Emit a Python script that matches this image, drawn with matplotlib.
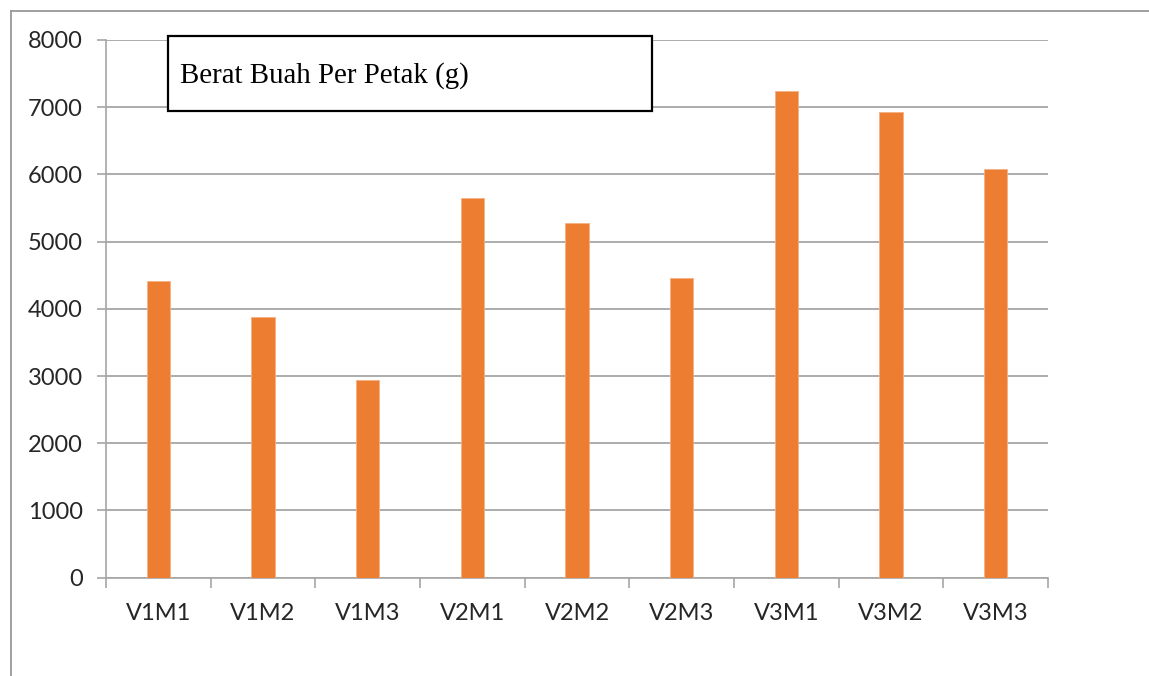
import matplotlib
matplotlib.use("Agg")
import matplotlib.pyplot as plt
import numpy as np
from matplotlib.patches import Rectangle
from matplotlib.lines import Line2D

# data
categories = ["V1M1", "V1M2", "V1M3", "V2M1", "V2M2", "V2M3", "V3M1", "V3M2", "V3M3"]
berat = [4410, 3875, 2940, 5645, 5280, 4465, 7245, 6925, 6085]
y_ticks = [0, 1000, 2000, 3000, 4000, 5000, 6000, 7000, 8000]
title = "Berat Buah Per Petak (g)"

W, H = 1149, 676
fig = plt.figure(figsize=(W / 100, H / 100), dpi=100)
ax = fig.add_axes([106 / W, 1 - 577.7 / H, (1048 - 106) / W, (577.7 - 40) / H])

grey = "#a6a6a6"
x = np.arange(len(categories))
ax.bar(x, berat, width=0.22, color="#ED7D31", edgecolor="#f4b183", linewidth=0.6, zorder=3)

ax.set_xlim(-0.5, len(categories) - 0.5)
ax.set_ylim(0, 8000)
ax.set_yticks(y_ticks)
ax.set_yticklabels([str(v) for v in y_ticks])
ax.yaxis.grid(True, color=grey, linewidth=1.3, zorder=0)
ax.set_axisbelow(True)

# category labels at centres, tick marks at boundaries
ax.set_xticks(x)
ax.set_xticklabels(categories)
ax.set_xticks(np.arange(-0.5, len(categories)), minor=True)
ax.tick_params(axis="x", which="major", length=0, pad=18)
ax.tick_params(axis="x", which="minor", length=7.5, width=1.2, color=grey)
ax.tick_params(axis="y", length=6.5, width=1.2, color=grey, pad=10)
for lbl in ax.get_xticklabels() + ax.get_yticklabels():
    lbl.set_fontfamily("Lato")
    lbl.set_fontsize(17)
    lbl.set_color("#262626")

for s in ["top", "right"]:
    ax.spines[s].set_visible(False)
ax.spines["left"].set_color(grey)
ax.spines["bottom"].set_color(grey)
ax.spines["left"].set_linewidth(1.2)
ax.spines["bottom"].set_linewidth(1.2)

# outer frame of the chart (top and left edges visible)
fig.add_artist(Line2D([11 / W, 1], [1 - 11 / H, 1 - 11 / H], color="#999999", linewidth=1.3))
fig.add_artist(Line2D([11 / W, 11 / W], [0, 1 - 11 / H], color="#999999", linewidth=1.3))

# title box
fig.add_artist(Rectangle((168 / W, 1 - 111 / H), (652 - 168) / W, (111 - 36) / H,
                         facecolor="white", edgecolor="black", linewidth=1.6,
                         transform=fig.transFigure, zorder=5))
fig.text(180 / W, 1 - 76 / H, title, fontfamily="Liberation Serif", fontsize=20.8,
         va="center", ha="left", zorder=6)

fig.savefig("out.png", dpi=100)
